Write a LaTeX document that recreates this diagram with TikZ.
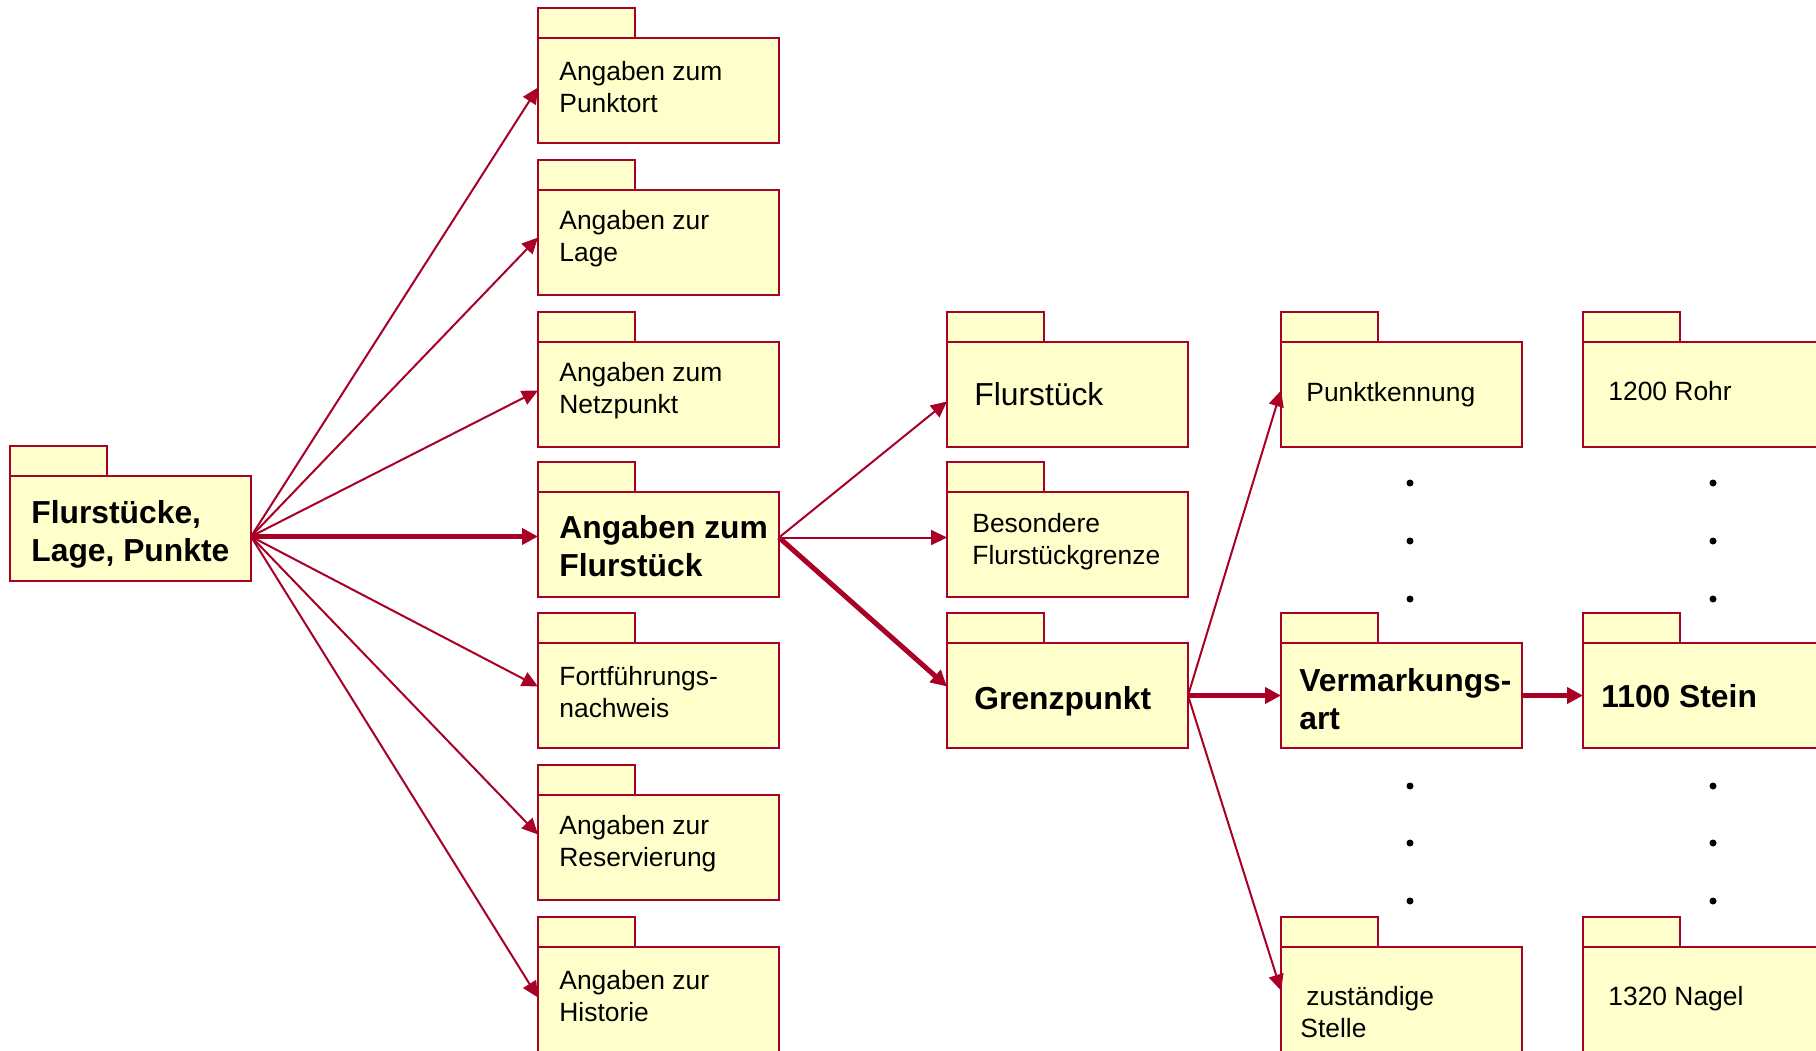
\documentclass[tikz,border=0pt]{standalone}
\usepackage{fontspec}
\setmainfont{Liberation Sans}
\usetikzlibrary{arrows.meta}

\begin{document}
\begin{tikzpicture}[x=0.5pt,y=-0.5pt,
    folder/.style={draw=kRed,fill=kYellow,line width=0.8pt,outer sep=0pt,inner sep=0pt,
      minimum width=120.5pt,minimum height=52.5pt,anchor=north west},
    tab/.style={draw=kRed,fill=kYellow,line width=0.8pt},
    txtsmall/.style={font=\fontsize{13.2}{16}\selectfont},
    txtbig/.style={font=\fontsize{15.9}{19}\selectfont},
    txtbold/.style={font=\fontsize{15.9}{19}\selectfont\bfseries},
    link/.style={draw=kRed,line width=1pt,-{Triangle[length=8pt,width=7.5pt]}},
    mainlink/.style={draw=kRed,line width=2.5pt,-{Triangle[length=8pt,width=8pt]}}]
  \definecolor{kRed}{RGB}{168,0,38}
  \definecolor{kYellow}{RGB}{255,255,204}

  \useasboundingbox (0,0) rectangle (1816,1050);

  \foreach \n/\x/\y/\ix/\dy/\f/\t in {
      root/10/476/10.5/-3/txtbold/{Flurstücke,\\Lage, Punkte},
      punktort/538/38/10.5/1.8/txtsmall/{Angaben zum\\Punktort},
      lage/538/190/10.5/1.8/txtsmall/{Angaben zur\\Lage},
      netz/538/342/10.5/1.8/txtsmall/{Angaben zum\\Netzpunkt},
      angfl/538/492/10.5/-1/txtbold/{Angaben zum\\Flurstück},
      fort/538/643/10.5/1.8/txtsmall/{Fortführungs-\\nachweis},
      reserv/538/795/10.5/1.8/txtsmall/{Angaben zur\\Reservierung},
      hist/538/947/10.5/1.8/txtsmall/{Angaben zur\\Historie},
      flst/947/342/13.5/0/txtbig/{Flurstück},
      bes/947/492/12.5/1.2/txtsmall/{Besondere\\Flurstückgrenze},
      gp/947/643/13.5/-3/txtbold/{Grenzpunkt},
      pk/1281/342/12.5/0/txtsmall/{Punktkennung},
      vm/1281/643/9/-2/txtbold/{Vermarkungs-\\art},
      zst/1281/947/9.5/-6.5/txtsmall/{\hspace{3pt}zuständige\\Stelle},
      rohr/1583/342/12.5/1.5/txtsmall/{1200 Rohr},
      stein/1583/643/9/-0.5/txtbold/{1100 Stein},
      nagel/1583/947/12.5/0.5/txtsmall/{1320 Nagel}
    }
  {
    \node[folder] (\n) at (\x,\y) {};
    \draw[tab] (\n.north west) rectangle ++(97,-30);
    \node[\f,anchor=west,align=left,inner sep=0pt] (\n-t)
      at ([xshift=\ix pt,yshift=\dy pt]\n.west) {\t};
  }

  \coordinate (rt) at ([yshift=-4pt]root.east);
  \foreach \m/\s in {punktort/1.5,lage/2.5,netz/2,fort/4.5,reserv/6.5,hist/1}
    \draw[link] (rt) -- ([yshift=\s pt]\m.west);
  \draw[mainlink] (rt) -- (rt -| angfl.west);

  \coordinate (af) at ([yshift=3.5pt]angfl.east);
  \draw[link] (af) -- ([yshift=-3.5pt]flst.west);
  \draw[link] (af) -- (af -| bes.west);
  \draw[mainlink] (af) -- ([yshift=4.5pt]gp.west);

  \draw[link] (gp.east) -- ([yshift=2pt]pk.west);
  \draw[mainlink] (gp.east) -- (vm.west);
  \draw[link] (gp.east) -- ([yshift=4.5pt]zst.west);
  \draw[mainlink] (vm.east) -- (stein.west);

  \foreach \x in {1410,1713}
    \foreach \y in {483,541,599,786,843,901}
      \fill (\x,\y) circle[radius=1.75pt];
\end{tikzpicture}
\end{document}
